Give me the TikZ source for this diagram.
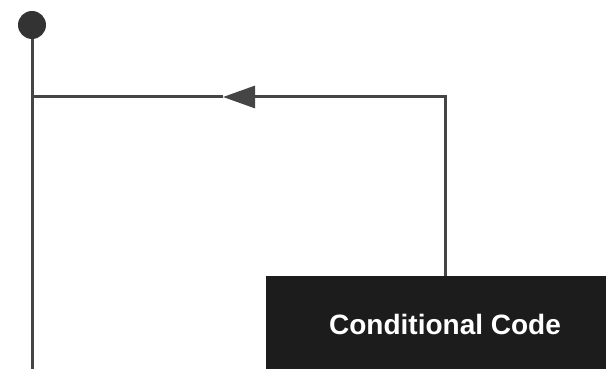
\documentclass[tikz,border=0pt]{standalone}
\usepackage{fontspec}
\setmainfont{Liberation Sans}
\usetikzlibrary{arrows.meta}
\tikzstyle{initial} = [circle, fill=black!80, minimum size=28pt, inner sep=0pt]
\tikzstyle{process} = [rectangle, fill=black!89, text=white, font=\fontsize{28}{34}\selectfont\bfseries, minimum width=358pt, minimum height=96pt]
\tikzstyle{line} = [line width=3pt, draw=black!73]
\tikzstyle{connector} = [line, -{Triangle[length=32pt, width=22pt]}]

\begin{document}
\begin{tikzpicture}[x=1pt, y=1pt]
        \clip (0,0) rectangle (606,369);
        \node (start) [initial] at (32,344) {};
        \node (cond-code) [process] at (445,45) {Conditional Code};
        \coordinate (loop-arrow) at (223,272);
        \coordinate (join) at (32,272);
        \coordinate (exit) at (32,-5);
        \draw [line] (start) -- (exit);
        \draw [connector] (cond-code.north) |- (loop-arrow);
        \draw [line] (loop-arrow) -- (join);
\end{tikzpicture}
\end{document}
